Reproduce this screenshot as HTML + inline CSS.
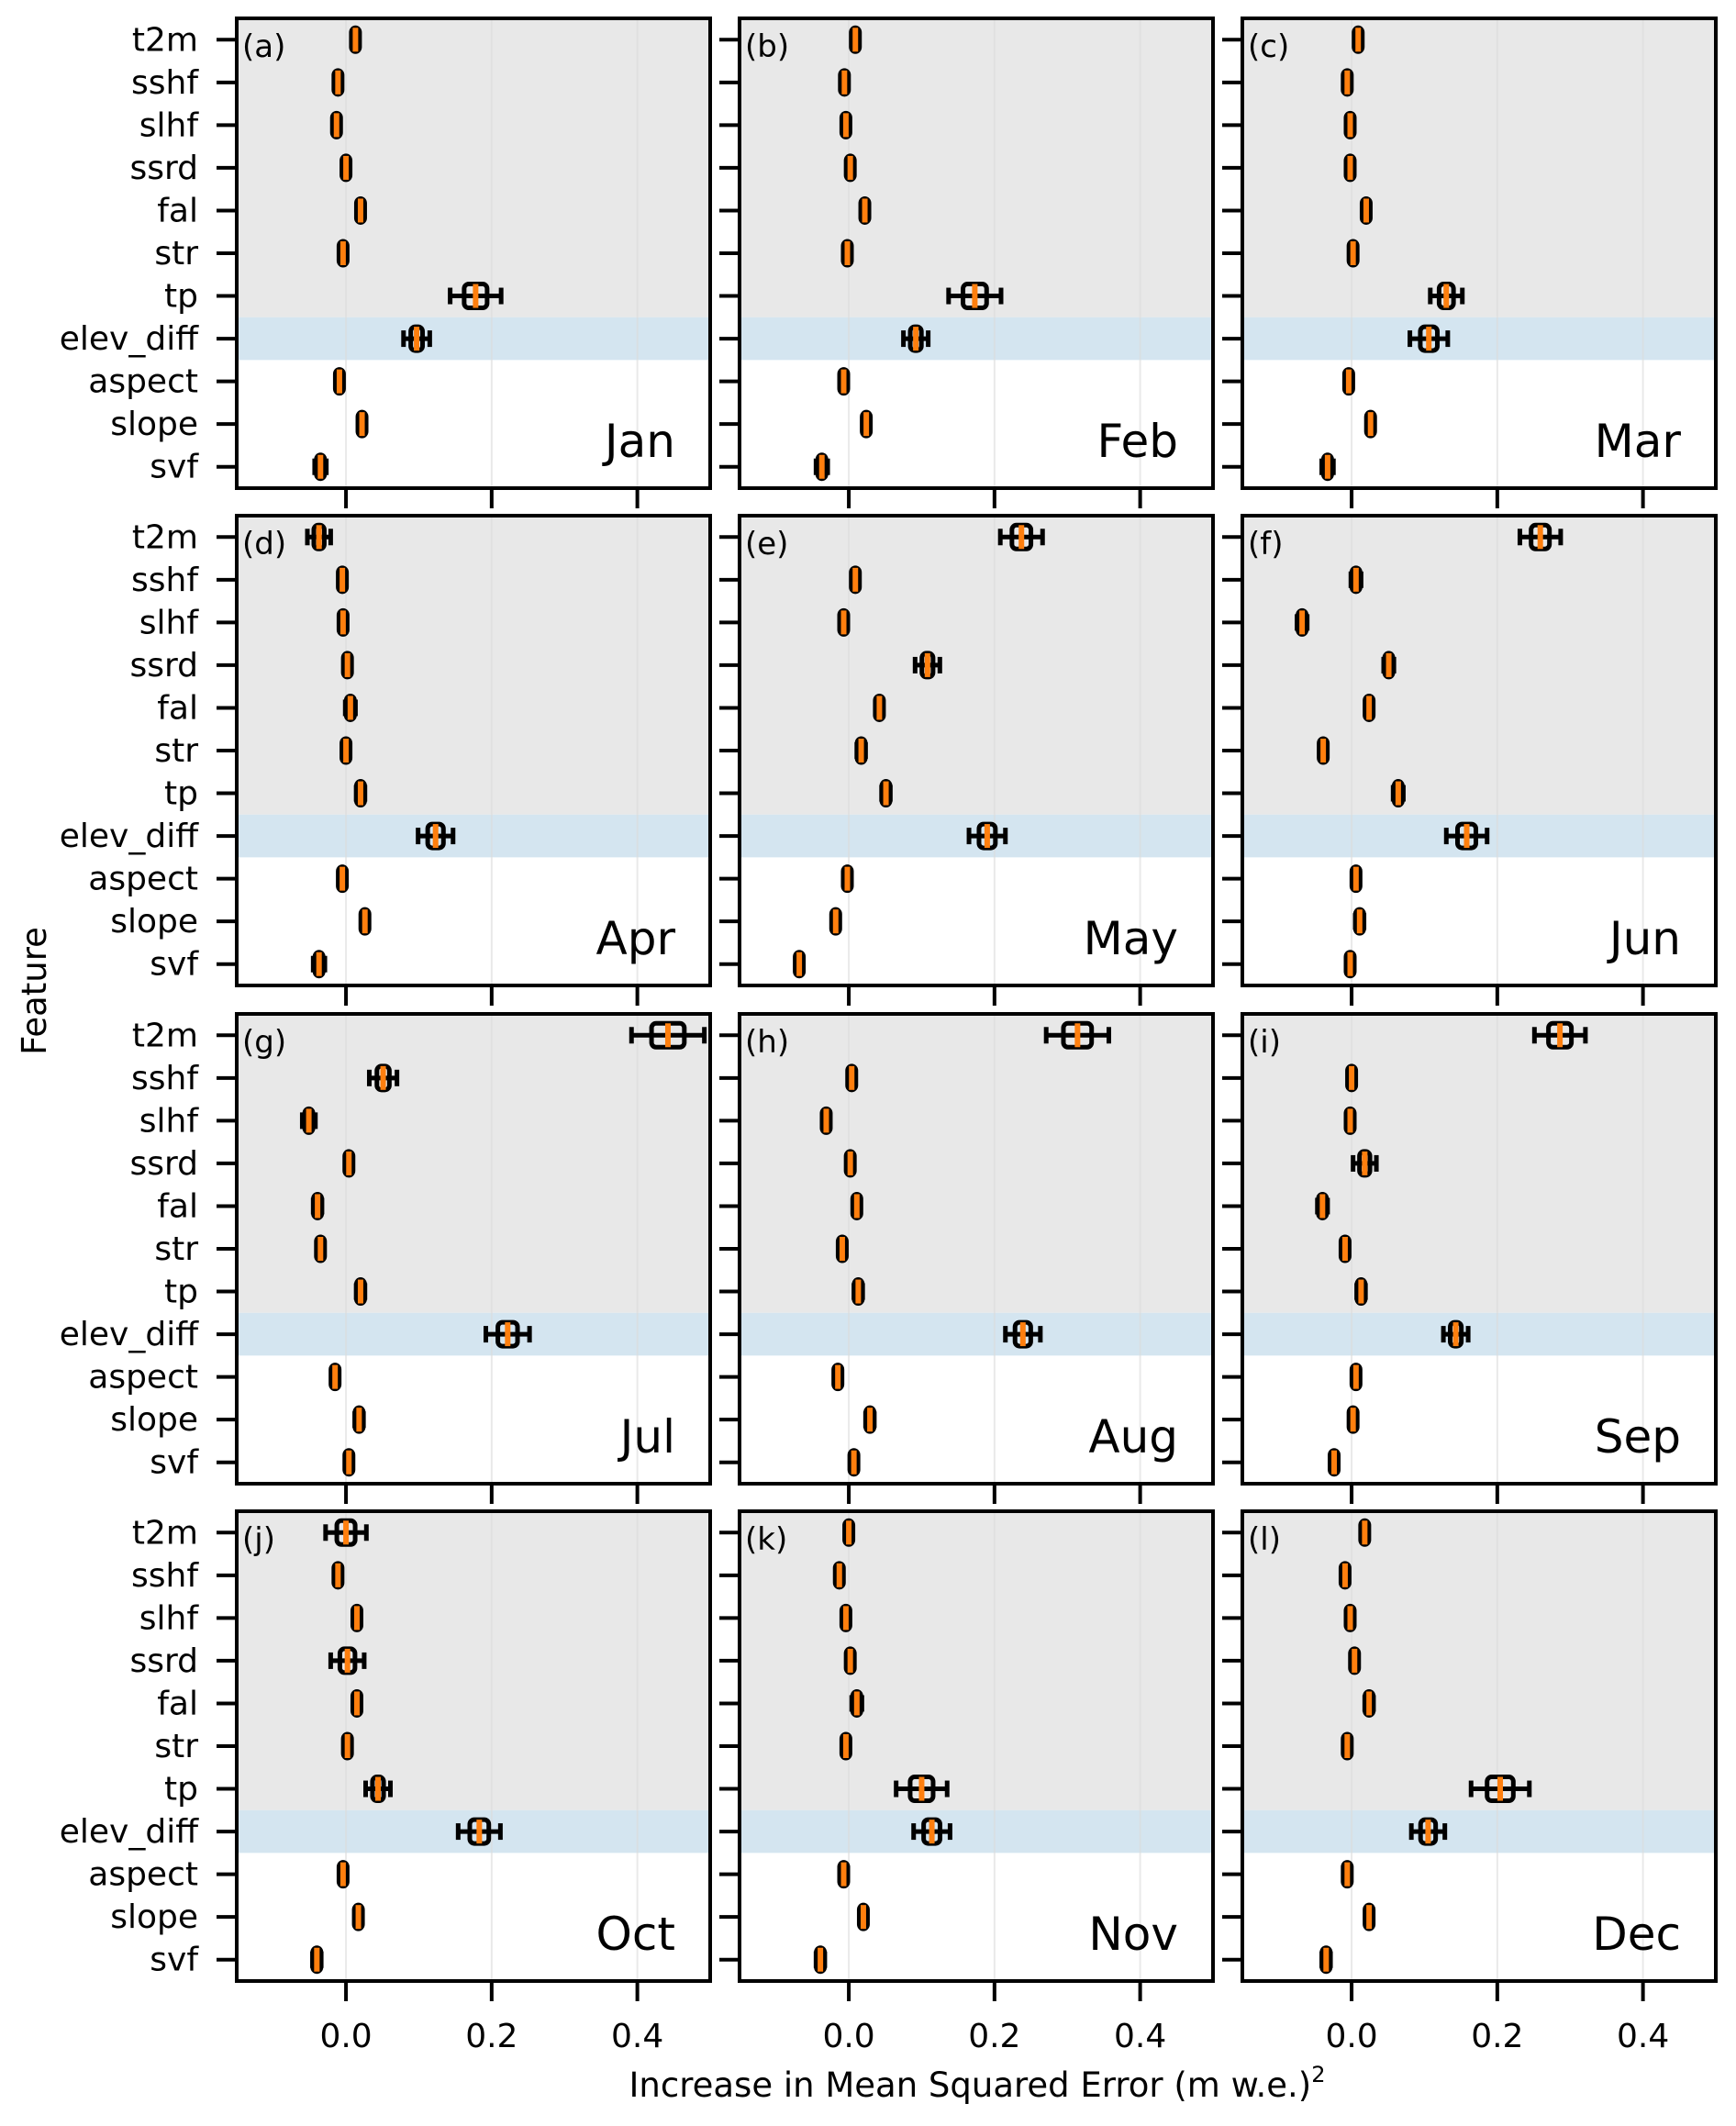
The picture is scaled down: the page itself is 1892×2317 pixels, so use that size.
<!DOCTYPE html>
<html><head><meta charset="utf-8"><style>
html,body{margin:0;padding:0;background:#fff;}
svg text{font-family:"DejaVu Sans","Liberation Sans",sans-serif;}
</style></head><body>
<svg id="fig" xmlns="http://www.w3.org/2000/svg" width="1892" height="2312" viewBox="0 0 1892 2312"></svg>
<script>
const features = ["t2m","sshf","slhf","ssrd","fal","str","tp","elev_diff","aspect","slope","svf"];
const months = ["Jan","Feb","Mar","Apr","May","Jun","Jul","Aug","Sep","Oct","Nov","Dec"];
const panelLetters = ["(a)","(b)","(c)","(d)","(e)","(f)","(g)","(h)","(i)","(j)","(k)","(l)"];
const xTicks = [0.0, 0.2, 0.4];
const xTickLabels = ["0.0","0.2","0.4"];
// median importance per month (feature order as above)
const medJan = [0.013,-0.011,-0.013,0.0,0.02,-0.004,0.178,0.097,-0.009,0.022,-0.035];
const medFeb = [0.009,-0.006,-0.004,0.002,0.022,-0.002,0.173,0.092,-0.007,0.024,-0.037];
const medMar = [0.009,-0.006,-0.002,-0.002,0.02,0.002,0.13,0.106,-0.004,0.026,-0.033];
const medApr = [-0.037,-0.005,-0.004,0.002,0.006,0.0,0.02,0.123,-0.005,0.026,-0.037];
const medMay = [0.237,0.009,-0.007,0.108,0.042,0.017,0.051,0.19,-0.002,-0.018,-0.068];
const medJun = [0.259,0.006,-0.068,0.051,0.024,-0.039,0.064,0.158,0.006,0.011,-0.002];
const medJul = [0.442,0.051,-0.051,0.004,-0.039,-0.035,0.02,0.222,-0.015,0.018,0.004];
const medAug = [0.314,0.004,-0.031,0.002,0.011,-0.009,0.013,0.239,-0.015,0.029,0.007];
const medSep = [0.286,0.0,-0.002,0.018,-0.04,-0.009,0.013,0.143,0.006,0.002,-0.024];
const medOct = [0.0,-0.011,0.015,0.002,0.015,0.002,0.044,0.183,-0.004,0.017,-0.04];
const medNov = [0.0,-0.013,-0.004,0.002,0.011,-0.004,0.1,0.114,-0.007,0.02,-0.039];
const medDec = [0.018,-0.009,-0.002,0.004,0.024,-0.006,0.204,0.105,-0.006,0.024,-0.035];
// whisker half-range per month
const sprJan = [0.004,0.004,0.004,0.002,0.005,0.003,0.035,0.018,0.004,0.004,0.008];
const sprFeb = [0.003,0.003,0.003,0.002,0.004,0.002,0.036,0.017,0.003,0.003,0.008];
const sprMar = [0.004,0.004,0.003,0.003,0.005,0.002,0.022,0.026,0.003,0.003,0.008];
const sprApr = [0.016,0.004,0.002,0.003,0.007,0.003,0.006,0.024,0.003,0.004,0.008];
const sprMay = [0.029,0.004,0.003,0.017,0.004,0.006,0.006,0.025,0.003,0.004,0.004];
const sprJun = [0.028,0.007,0.007,0.007,0.004,0.004,0.007,0.028,0.004,0.006,0.005];
const sprJul = [0.05,0.019,0.009,0.004,0.006,0.004,0.006,0.03,0.003,0.006,0.005];
const sprAug = [0.043,0.004,0.005,0.002,0.004,0.004,0.006,0.024,0.004,0.006,0.005];
const sprSep = [0.035,0.003,0.003,0.016,0.007,0.004,0.006,0.017,0.003,0.003,0.005];
const sprOct = [0.028,0.005,0.004,0.023,0.005,0.004,0.017,0.029,0.004,0.003,0.006];
const sprNov = [0.003,0.003,0.002,0.002,0.007,0.002,0.035,0.025,0.003,0.003,0.006];
const sprDec = [0.003,0.003,0.003,0.002,0.006,0.003,0.04,0.023,0.004,0.003,0.006];

const medians = [medJan,medFeb,medMar,medApr,medMay,medJun,medJul,medAug,medSep,medOct,medNov,medDec];
const spreads = [sprJan,sprFeb,sprMar,sprApr,sprMay,sprJun,sprJul,sprAug,sprSep,sprOct,sprNov,sprDec];

const NS="http://www.w3.org/2000/svg";
const svg=document.getElementById('fig');
const XMIN=-0.15, XMAX=0.50;
const PW=516, PH=512;
const lefts=[258,806,1354], tops=[20,562,1105,1647];
function mk(tag,attrs,parent){const e=document.createElementNS(NS,tag);for(const k in attrs)e.setAttribute(k,attrs[k]);(parent||svg).appendChild(e);return e;}

for(let p=0;p<12;p++){
  const col=p%3,row=Math.floor(p/3);
  const L=lefts[col],T=tops[row];
  const xs=v=>L+(v-XMIN)/(XMAX-XMIN)*PW;
  const ys=i=>T+(i+0.5)*PH/11;
  const g=mk('g',{});
  
  
  mk('rect',{x:L,y:T,width:PW,height:PH,fill:'#fff'},g);
  const bgG=mk('rect',{x:L,y:T,width:PW,height:7*PH/11,fill:'#e8e8e8'},g);
  
  
  const bgB=mk('rect',{x:L,y:T+7*PH/11,width:PW,height:PH/11,fill:'#d4e5f0'},g);
  
  
  xTicks.forEach(t=>{mk('line',{x1:xs(t),x2:xs(t),y1:T,y2:T+PH,stroke:'#dcdcdc','stroke-width':2,opacity:0.6},g);});
  const med=medians[p],spr=spreads[p];
  features.forEach((f,i)=>{
    const m=med[i],s=spr[i],y=ys(i);
    const b=mk('g',{},g);
    
    
    const lo=m-s,hi=m+s,q1=m-s*0.45,q3=m+s*0.45;
    mk('line',{x1:xs(lo),x2:xs(hi),y1:y,y2:y,stroke:'#000','stroke-width':5},b);
    mk('line',{x1:xs(lo),x2:xs(lo),y1:y-9,y2:y+9,stroke:'#000','stroke-width':5},b);
    mk('line',{x1:xs(hi),x2:xs(hi),y1:y-9,y2:y+9,stroke:'#000','stroke-width':5},b);
    const bw=Math.max(xs(q3)-xs(q1),9);
    mk('rect',{x:xs(m)-bw/2,y:y-13,width:bw,height:26,rx:5,fill:'none',stroke:'#000','stroke-width':5},b);
    mk('line',{x1:xs(m),x2:xs(m),y1:y-13,y2:y+13,stroke:'#ff7f0e','stroke-width':6},b);
  });
  mk('rect',{x:L,y:T,width:PW,height:PH,fill:'none',stroke:'#000','stroke-width':4},g);
  features.forEach((f,i)=>{
    const y=ys(i);
    mk('line',{x1:L-22,x2:L,y1:y,y2:y,stroke:'#000','stroke-width':4},g);
    if(col===0){const t=mk('text',{x:L-42,y:y+12,'text-anchor':'end','font-size':36},g);t.textContent=f;
      }
  });
  xTicks.forEach((t,k)=>{
    mk('line',{x1:xs(t),x2:xs(t),y1:T+PH,y2:T+PH+22,stroke:'#000','stroke-width':4},g);
    if(row===3){const tx=mk('text',{x:xs(t),y:2231,'text-anchor':'middle','font-size':36},g);tx.textContent=xTickLabels[k];
      }
  });
  const lt=mk('text',{x:L+6,y:T+42,'font-size':34},g);lt.textContent=panelLetters[p];
  
  const mt=mk('text',{x:L+PW-38,y:T+478,'text-anchor':'end','font-size':50},g);mt.textContent=months[p];
  
}
const xt=mk('text',{x:1065,y:2285,'text-anchor':'middle','font-size':37});
xt.innerHTML='Increase in Mean Squared Error (m w.e.)<tspan dy="-16" font-size="24">2</tspan>';


const yt=mk('text',{x:0,y:0,'text-anchor':'middle','font-size':37,transform:'translate(50,1080) rotate(-90)'});
yt.textContent='Feature';


</script>
</body></html>
